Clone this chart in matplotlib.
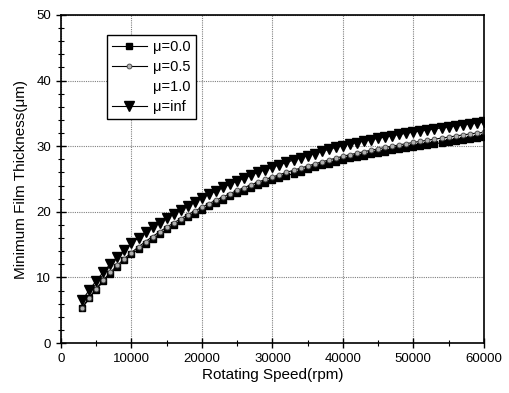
import numpy as np
import matplotlib.pyplot as plt
from matplotlib.ticker import MultipleLocator

plt.rcParams['font.family'] = ['Liberation Sans', 'DejaVu Sans']

# rotating speed (rpm)
speed = np.arange(3000, 60001, 1000)

# minimum film thickness (um)
h_mu00 = [5.3, 6.8, 8.15, 9.4, 10.55, 11.6, 12.6, 13.5,
          14.35, 15.15, 15.91, 16.63, 17.31, 17.96, 18.58, 19.17, 19.74, 20.3,
          20.84, 21.36, 21.86, 22.34, 22.8, 23.24, 23.66, 24.06, 24.44, 24.8,
          25.15, 25.49, 25.82, 26.14, 26.45, 26.76, 27.06, 27.35, 27.63, 27.9,
          28.13, 28.35, 28.57, 28.78, 28.98, 29.18, 29.37, 29.55, 29.73, 29.9,
          30.06, 30.22, 30.37, 30.52, 30.67, 30.82, 30.97, 31.11, 31.25, 31.4]
h_mu05 = [5.4, 6.93, 8.31, 9.59, 10.77, 11.85, 12.87, 13.8,
          14.66, 15.47, 16.24, 16.97, 17.66, 18.32, 18.95, 19.55, 20.13, 20.7,
          21.25, 21.78, 22.29, 22.78, 23.25, 23.7, 24.13, 24.54, 24.93, 25.3,
          25.66, 26.01, 26.34, 26.67, 26.98, 27.3, 27.61, 27.9, 28.19, 28.47,
          28.71, 28.94, 29.17, 29.39, 29.6, 29.81, 30.01, 30.2, 30.39, 30.57,
          30.74, 30.91, 31.07, 31.23, 31.39, 31.55, 31.71, 31.86, 32.01, 32.1]
h_muinf = [6.5, 8.07, 9.49, 10.81, 12.04, 13.16, 14.23, 15.2,
           16.06, 16.87, 17.64, 18.37, 19.06, 19.72, 20.35, 20.95, 21.53, 22.1,
           22.66, 23.2, 23.72, 24.22, 24.7, 25.16, 25.6, 26.02, 26.42, 26.8,
           27.17, 27.53, 27.88, 28.22, 28.55, 28.88, 29.2, 29.51, 29.81, 30.1,
           30.33, 30.56, 30.78, 31.0, 31.2, 31.41, 31.6, 31.79, 31.97, 32.15,
           32.31, 32.48, 32.63, 32.79, 32.94, 33.1, 33.25, 33.4, 33.54, 33.7]

fig = plt.figure(figsize=(5.1, 3.93), dpi=100)
ax = fig.add_axes([0.1196, 0.127, 0.829, 0.835])

ax.plot(speed, h_mu00, color='black', lw=0.8, marker='s', ms=5, label='μ=0.0')
ax.plot(speed, h_mu05, color='black', lw=0.8, marker='o', ms=3.5,
        mfc='#b0b0b0', mec='#404040', mew=0.6, label='μ=0.5')
ax.plot([], [], ls='none', label='μ=1.0')
ax.plot(speed, h_muinf, color='black', lw=0.8, marker='v', ms=6.5, label='μ=inf')

ax.set_xlim(0, 60000)
ax.set_ylim(0, 50)
ax.xaxis.set_major_locator(MultipleLocator(10000))
ax.xaxis.set_minor_locator(MultipleLocator(5000))
ax.yaxis.set_major_locator(MultipleLocator(10))
ax.yaxis.set_minor_locator(MultipleLocator(2))
ax.tick_params(which='major', direction='inout', length=7, width=1, labelsize=9.5)
ax.tick_params(which='minor', direction='inout', length=4, width=0.8)
ax.grid(which='major', color='#808080', linestyle=(0, (1, 1)), linewidth=0.8)
for s in ax.spines.values():
    s.set_linewidth(1.2)

ax.set_xlabel('Rotating Speed(rpm)', fontsize=11, labelpad=2)
ax.set_ylabel('Minimum Film Thickness(μm)', fontsize=11, labelpad=6)

leg = ax.legend(loc='upper left', bbox_to_anchor=(0.108, 0.94), fontsize=10.5,
                frameon=True, fancybox=False, edgecolor='black', framealpha=1,
                borderaxespad=0, handlelength=2.4, borderpad=0.35,
                labelspacing=0.42, handletextpad=0.45)
leg.get_frame().set_linewidth(1.0)

fig.savefig('out.png', dpi=100)
